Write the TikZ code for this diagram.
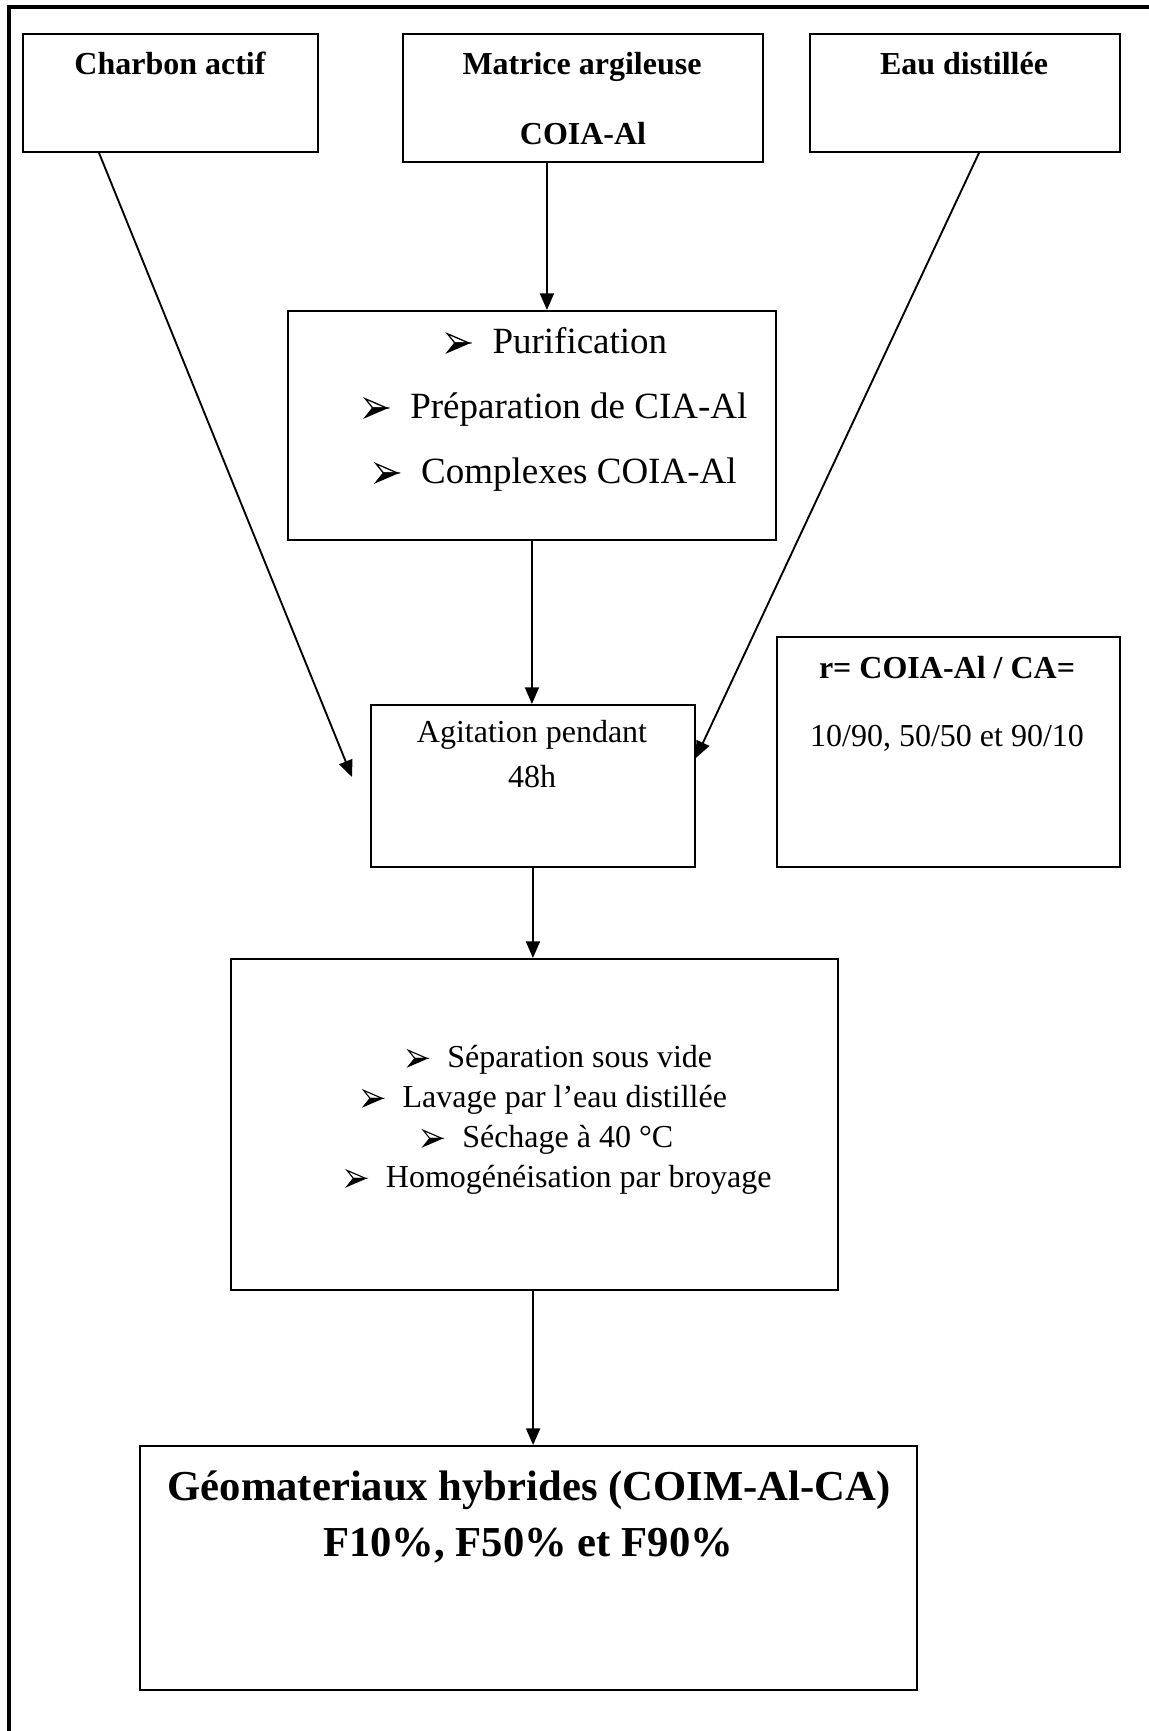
\documentclass[tikz,border=0pt]{standalone}
\usepackage{fontspec}
\setmainfont{Liberation Serif}
\usetikzlibrary{arrows.meta,calc}
\newcommand\bulg{\tikz[baseline=0pt,x=1em,y=1em,line width=0.035em,line join=miter]{\filldraw (0,0.02) -- (0.58,0.27) -- (0.2,0.27) -- cycle; \draw (0,0.52) -- (0.58,0.27) -- (0.2,0.27) -- cycle;}\hspace{0.62em}}
\tikzset{
  boxst/.style={draw, line width=1.4pt, inner sep=0pt, anchor=north west},
  lbl/.style={font=\fontsize{24}{28}\selectfont\bfseries, inner sep=0pt, anchor=base},
  txt/.style={font=\fontsize{24}{28}\selectfont, inner sep=0pt, anchor=base},
  ptxt/.style={font=\fontsize{27.75}{32}\selectfont, inner sep=0pt, anchor=base},
  ftxt/.style={font=\fontsize{32}{38}\selectfont\bfseries, inner sep=0pt, anchor=base},
  arr/.style={line width=1.4pt, -{Triangle[length=12.5pt,width=10.5pt]}},
  frame/.style={line width=2.3pt},
}
\newcommand\mkbox[5]{\node[boxst, minimum width=#4*0.75pt, minimum height=#5*0.75pt] (#1) at (#2,#3) {};}
\begin{document}
\begin{tikzpicture}[x=0.75pt,y=-0.75pt]
\useasboundingbox (0,0) rectangle (1149,1731);
% outer frame (right and bottom sides lie outside the picture)
\draw[frame] (9,1740) -- (9,7) -- (1160,7);
% boxes
\mkbox{ca}{22}{33}{295}{118}
\mkbox{mat}{402}{33}{360}{128}
\mkbox{eau}{809}{33}{310}{118}
\mkbox{pur}{287}{310}{488}{229}
\mkbox{agi}{370}{704}{324}{162}
\mkbox{rat}{776}{636}{343}{230}
\mkbox{sep}{230}{958}{607}{331}
\mkbox{fin}{139}{1445}{777}{244}
% texts
\node[lbl] (tca) at (170,74) {Charbon actif};
\node[lbl] (tmat1) at (582,74) {Matrice argileuse};
\node[lbl] (tmat2) at (583,144) {COIA-Al};
\node[lbl] (teau) at (964,74) {Eau distillée};
\node[ptxt] (tp1) at (557,353) {\bulg Purification};
\node[ptxt] (tp2) at (556,418) {\bulg Préparation de CIA-Al};
\node[ptxt] (tp3) at (556,483) {\bulg Complexes COIA-Al};
\node[txt] (ta1) at (532,742) {Agitation pendant};
\node[txt] (ta2) at (532,787) {48h};
\node[lbl] (tr1) at (947,678) {r= COIA-Al / CA=};
\node[txt] (tr2) at (947,746) {10/90, 50/50 et 90/10};
\node[txt] (ts1) at (560,1067) {\bulg Séparation sous vide};
\node[txt] (ts2) at (545,1107) {\bulg Lavage par l’eau distillée};
\node[txt] (ts3) at (548,1147) {\bulg Séchage à 40 °C};
\node[txt] (ts4) at (559,1187) {\bulg Homogénéisation par broyage};
\node[ftxt] (tf1) at (529,1500) {Géomateriaux hybrides (COIM-Al-CA)};
\node[ftxt] (tf2) at (528,1556) {F10\%, F50\% et F90\%};
% connectors
\coordinate (caend) at (352,777);
\draw[arr] ([xshift=77*0.75pt]ca.south west) -- (caend);
\draw[arr] ([xshift=170*0.75pt]eau.south west) -- ([yshift=21pt]agi.east);
\draw[arr] ([xshift=-27pt]mat.south) -- ([xshift=-27pt]mat.south |- pur.north);
\draw[arr] (pur.south) -- (pur.south |- agi.north);
\draw[arr] (agi.south) -- (agi.south |- sep.north);
\draw[arr] ([xshift=-1pt]sep.south) -- ([xshift=-1pt]sep.south |- fin.north);
\end{tikzpicture}
\end{document}
